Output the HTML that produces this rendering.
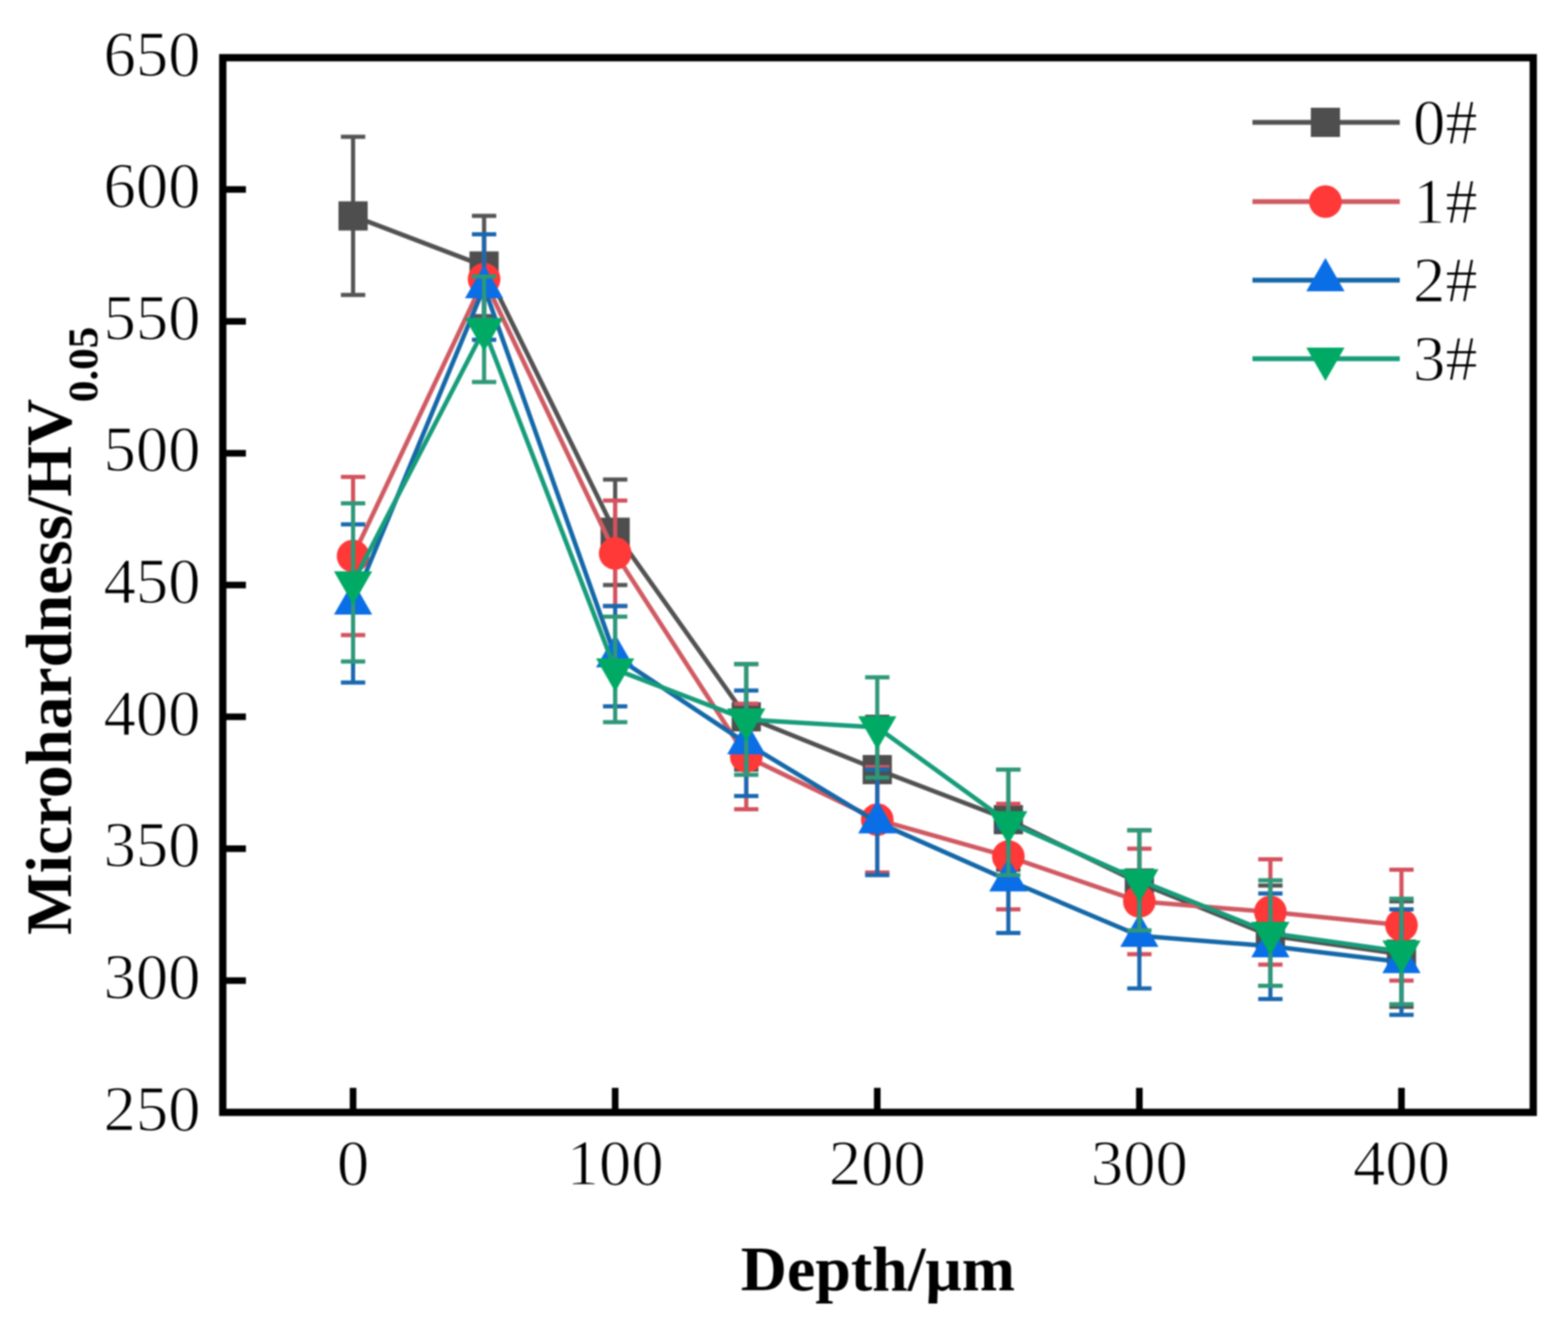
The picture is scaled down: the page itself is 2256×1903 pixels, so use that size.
<!DOCTYPE html>
<html><head><meta charset="utf-8"><title>Microhardness vs Depth</title>
<style>
html,body{margin:0;padding:0;background:#fff;}
body{width:2256px;height:1903px;overflow:hidden;}
svg{display:block;filter:blur(1px);}
text{font-family:"Liberation Serif","Times New Roman",serif;fill:#000;}
.thin{stroke:#fff;stroke-width:1.4px;stroke-linejoin:round;}
</style></head><body>
<svg width="2256" height="1903" viewBox="0 0 2256 1903">
<rect width="2256" height="1903" fill="#fff"/>
<polyline points="508.0,310.6 696.5,382.6 885.1,765.6 1073.7,1031.1 1262.2,1107.0 1450.8,1179.0 1639.3,1270.1 1827.8,1345.9 2016.4,1372.5" fill="none" stroke-linejoin="round" stroke-linecap="round" stroke="#525252" stroke-width="6.5"/>
<path d="M508.0 196.8V424.3M490.5 196.8H525.5M490.5 424.3H525.5M696.5 310.6V454.7M679.0 310.6H714.0M679.0 454.7H714.0M885.1 689.8V841.5M867.6 689.8H902.6M867.6 841.5H902.6M1073.7 955.3V1107.0M1056.2 955.3H1091.2M1056.2 1107.0H1091.2M1262.2 1031.1V1182.8M1244.7 1031.1H1279.7M1244.7 1182.8H1279.7M1450.8 1107.0V1251.1M1433.2 1107.0H1468.2M1433.2 1251.1H1468.2M1639.3 1194.2V1345.9M1621.8 1194.2H1656.8M1621.8 1345.9H1656.8M1827.8 1273.8V1418.0M1810.3 1273.8H1845.3M1810.3 1418.0H1845.3M2016.4 1296.6V1448.3M1998.9 1296.6H2033.9M1998.9 1448.3H2033.9" fill="none" stroke-width="6" stroke="#555555"/>
<rect x="487.0" y="289.6" width="42" height="42" fill="#4e4e4e"/>
<rect x="675.5" y="361.6" width="42" height="42" fill="#4e4e4e"/>
<rect x="864.1" y="744.6" width="42" height="42" fill="#4e4e4e"/>
<rect x="1052.7" y="1010.1" width="42" height="42" fill="#4e4e4e"/>
<rect x="1241.2" y="1086.0" width="42" height="42" fill="#4e4e4e"/>
<rect x="1429.8" y="1158.0" width="42" height="42" fill="#4e4e4e"/>
<rect x="1618.3" y="1249.1" width="42" height="42" fill="#4e4e4e"/>
<rect x="1806.8" y="1324.9" width="42" height="42" fill="#4e4e4e"/>
<rect x="1995.4" y="1351.5" width="42" height="42" fill="#4e4e4e"/>
<polyline points="508.0,799.8 696.5,401.6 885.1,796.0 1073.7,1088.0 1262.2,1179.0 1450.8,1232.1 1639.3,1296.6 1827.8,1311.8 2016.4,1330.7" fill="none" stroke-linejoin="round" stroke-linecap="round" stroke="#d05a62" stroke-width="6.5"/>
<path d="M508.0 686.0V913.6M490.5 686.0H525.5M490.5 913.6H525.5M696.5 337.1V466.0M679.0 337.1H714.0M679.0 466.0H714.0M885.1 720.1V871.8M867.6 720.1H902.6M867.6 871.8H902.6M1073.7 1012.2V1163.9M1056.2 1012.2H1091.2M1056.2 1163.9H1091.2M1262.2 1103.2V1254.9M1244.7 1103.2H1279.7M1244.7 1254.9H1279.7M1450.8 1156.3V1308.0M1433.2 1156.3H1468.2M1433.2 1308.0H1468.2M1639.3 1220.8V1372.5M1621.8 1220.8H1656.8M1621.8 1372.5H1656.8M1827.8 1235.9V1387.6M1810.3 1235.9H1845.3M1810.3 1387.6H1845.3M2016.4 1251.1V1410.4M1998.9 1251.1H2033.9M1998.9 1410.4H2033.9" fill="none" stroke-width="6" stroke="#d4525e"/>
<circle cx="508.0" cy="799.8" r="23.5" fill="#ff3838"/>
<circle cx="696.5" cy="401.6" r="23.5" fill="#ff3838"/>
<circle cx="885.1" cy="796.0" r="23.5" fill="#ff3838"/>
<circle cx="1073.7" cy="1088.0" r="23.5" fill="#ff3838"/>
<circle cx="1262.2" cy="1179.0" r="23.5" fill="#ff3838"/>
<circle cx="1450.8" cy="1232.1" r="23.5" fill="#ff3838"/>
<circle cx="1639.3" cy="1296.6" r="23.5" fill="#ff3838"/>
<circle cx="1827.8" cy="1311.8" r="23.5" fill="#ff3838"/>
<circle cx="2016.4" cy="1330.7" r="23.5" fill="#ff3838"/>
<polyline points="508.0,868.0 696.5,412.9 885.1,943.9 1073.7,1069.0 1262.2,1182.8 1450.8,1266.3 1639.3,1345.9 1827.8,1361.1 2016.4,1383.8" fill="none" stroke-linejoin="round" stroke-linecap="round" stroke="#1468a8" stroke-width="6.5"/>
<path d="M508.0 754.3V981.8M490.5 754.3H525.5M490.5 981.8H525.5M696.5 337.1V488.8M679.0 337.1H714.0M679.0 488.8H714.0M885.1 871.8V1016.0M867.6 871.8H902.6M867.6 1016.0H902.6M1073.7 993.2V1144.9M1056.2 993.2H1091.2M1056.2 1144.9H1091.2M1262.2 1107.0V1258.7M1244.7 1107.0H1279.7M1244.7 1258.7H1279.7M1450.8 1190.4V1342.1M1433.2 1190.4H1468.2M1433.2 1342.1H1468.2M1639.3 1270.1V1421.8M1621.8 1270.1H1656.8M1621.8 1421.8H1656.8M1827.8 1285.2V1436.9M1810.3 1285.2H1845.3M1810.3 1436.9H1845.3M2016.4 1308.0V1459.7M1998.9 1308.0H2033.9M1998.9 1459.7H2033.9" fill="none" stroke-width="6" stroke="#1a68b0"/>
<polygon points="508.0,836.0 480.5,884.0 535.5,884.0" fill="#0a6ee6"/>
<polygon points="696.5,380.9 669.0,428.9 724.0,428.9" fill="#0a6ee6"/>
<polygon points="885.1,911.9 857.6,959.9 912.6,959.9" fill="#0a6ee6"/>
<polygon points="1073.7,1037.0 1046.2,1085.0 1101.2,1085.0" fill="#0a6ee6"/>
<polygon points="1262.2,1150.8 1234.7,1198.8 1289.7,1198.8" fill="#0a6ee6"/>
<polygon points="1450.8,1234.3 1423.2,1282.3 1478.2,1282.3" fill="#0a6ee6"/>
<polygon points="1639.3,1313.9 1611.8,1361.9 1666.8,1361.9" fill="#0a6ee6"/>
<polygon points="1827.8,1329.1 1800.3,1377.1 1855.3,1377.1" fill="#0a6ee6"/>
<polygon points="2016.4,1351.8 1988.9,1399.8 2043.9,1399.8" fill="#0a6ee6"/>
<polyline points="508.0,837.7 696.5,473.6 885.1,962.9 1073.7,1034.9 1262.2,1046.3 1450.8,1182.8 1639.3,1266.3 1827.8,1342.1 2016.4,1368.7" fill="none" stroke-linejoin="round" stroke-linecap="round" stroke="#179c7a" stroke-width="6.5"/>
<path d="M508.0 723.9V951.5M490.5 723.9H525.5M490.5 951.5H525.5M696.5 397.8V549.5M679.0 397.8H714.0M679.0 549.5H714.0M885.1 887.0V1038.7M867.6 887.0H902.6M867.6 1038.7H902.6M1073.7 955.3V1114.6M1056.2 955.3H1091.2M1056.2 1114.6H1091.2M1262.2 974.2V1118.4M1244.7 974.2H1279.7M1244.7 1118.4H1279.7M1450.8 1107.0V1258.7M1433.2 1107.0H1468.2M1433.2 1258.7H1468.2M1639.3 1194.2V1338.3M1621.8 1194.2H1656.8M1621.8 1338.3H1656.8M1827.8 1266.3V1418.0M1810.3 1266.3H1845.3M1810.3 1418.0H1845.3M2016.4 1292.8V1444.5M1998.9 1292.8H2033.9M1998.9 1444.5H2033.9" fill="none" stroke-width="6" stroke="#2f9878"/>
<polygon points="508.0,869.7 480.5,821.7 535.5,821.7" fill="#00aa64"/>
<polygon points="696.5,505.6 669.0,457.6 724.0,457.6" fill="#00aa64"/>
<polygon points="885.1,994.9 857.6,946.9 912.6,946.9" fill="#00aa64"/>
<polygon points="1073.7,1066.9 1046.2,1018.9 1101.2,1018.9" fill="#00aa64"/>
<polygon points="1262.2,1078.3 1234.7,1030.3 1289.7,1030.3" fill="#00aa64"/>
<polygon points="1450.8,1214.8 1423.2,1166.8 1478.2,1166.8" fill="#00aa64"/>
<polygon points="1639.3,1298.3 1611.8,1250.3 1666.8,1250.3" fill="#00aa64"/>
<polygon points="1827.8,1374.1 1800.3,1326.1 1855.3,1326.1" fill="#00aa64"/>
<polygon points="2016.4,1400.7 1988.9,1352.7 2043.9,1352.7" fill="#00aa64"/>
<rect x="320.5" y="83" width="1885.5" height="1517" fill="none" stroke="#000" stroke-width="10.5"/>
<path d="M320.5 1410.4H353.8M320.5 1220.8H353.8M320.5 1031.1H353.8M320.5 841.5H353.8M320.5 651.9H353.8M320.5 462.2H353.8M320.5 272.6H353.8M508.0 1600.0V1564.8M885.1 1600.0V1564.8M1262.2 1600.0V1564.8M1639.3 1600.0V1564.8M2016.4 1600.0V1564.8" stroke="#000" stroke-width="9.5" fill="none"/>
<g class="thin" font-size="93" text-anchor="end">
<text x="288.5" y="1625.5">250</text>
<text x="288.5" y="1435.9">300</text>
<text x="288.5" y="1246.2">350</text>
<text x="288.5" y="1056.6">400</text>
<text x="288.5" y="867.0">450</text>
<text x="288.5" y="677.4">500</text>
<text x="288.5" y="487.8">550</text>
<text x="288.5" y="298.1">600</text>
<text x="288.5" y="108.5">650</text>
</g>
<g class="thin" font-size="93" text-anchor="middle">
<text x="508.0" y="1704">0</text>
<text x="885.1" y="1704">100</text>
<text x="1262.2" y="1704">200</text>
<text x="1639.3" y="1704">300</text>
<text x="2016.4" y="1704">400</text>
</g>
<text x="1263" y="1856" font-size="92" font-weight="bold" text-anchor="middle">Depth/μm</text>
<text transform="translate(102.3,1344.7) rotate(-90)" font-size="94" font-weight="bold">Microhardness/HV<tspan font-size="62" dx="-5" dy="38">0.05</tspan></text>
<line x1="1802" y1="176" x2="2014" y2="176" stroke="#525252" stroke-width="7"/>
<rect x="1886.0" y="155.0" width="42" height="42" fill="#4e4e4e"/>
<text class="thin" x="2033" y="207" font-size="93">0#</text>
<line x1="1802" y1="290" x2="2014" y2="290" stroke="#d05a62" stroke-width="7"/>
<circle cx="1907.0" cy="290.0" r="23.5" fill="#ff3838"/>
<text class="thin" x="2033" y="321" font-size="93">1#</text>
<line x1="1802" y1="403" x2="2014" y2="403" stroke="#1468a8" stroke-width="7"/>
<polygon points="1907.0,371.0 1879.5,419.0 1934.5,419.0" fill="#0a6ee6"/>
<text class="thin" x="2033" y="434" font-size="93">2#</text>
<line x1="1802" y1="516" x2="2014" y2="516" stroke="#179c7a" stroke-width="7"/>
<polygon points="1907.0,548.0 1879.5,500.0 1934.5,500.0" fill="#00aa64"/>
<text class="thin" x="2033" y="547" font-size="93">3#</text>
</svg></body></html>
